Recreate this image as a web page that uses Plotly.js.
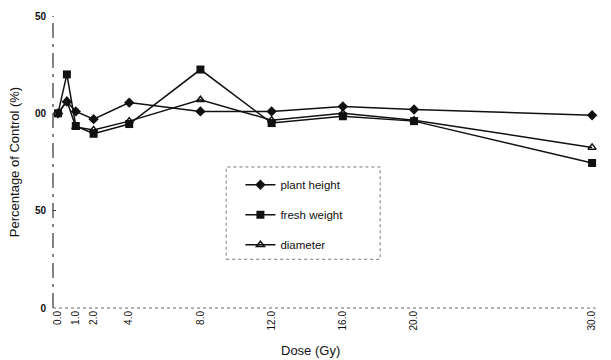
<!DOCTYPE html>
<html>
<head>
<meta charset="utf-8">
<script src="https://cdn.plot.ly/plotly-3.0.1.min.js"></script>
<style>html,body{margin:0;padding:0;background:#fff;}#chart{width:611px;height:360px;}</style>
</head>
<body>
<div id="chart"></div>
<script>
const dose = [0, 0.5, 1, 2, 4, 8, 12, 16, 20, 30];
const plantHeight = [100, 106, 101, 97, 105.5, 101, 101, 103.5, 102, 99];
const freshWeight = [100, 120, 93.5, 89.5, 94.5, 122.5, 95, 98.5, 96, 74.5];
const diameter = [100, 106.5, 93, 91.5, 96, 107, 96.5, 100, 96.5, 82.5];
const xTickVals = [0, 1, 2, 4, 8, 12, 16, 20, 30];
const xTickText = ['0.0', '1.0', '2.0', '4.0', '8.0', '12.0', '16.0', '20.0', '30.0'];
const yTickVals = [0, 50, 100, 150];
const yTickText = ['0', '50', '00', '50'];

const lineStyle = {color: '#111', width: 1.5};
const traces = [
  {x: dose, y: plantHeight, name: 'plant height', legendgroup: 'a', mode: 'lines+markers',
   line: lineStyle, marker: {symbol: 'diamond', size: 8, color: '#111'}},
  {x: dose, y: freshWeight, name: 'fresh weight', legendgroup: 'b', mode: 'lines+markers',
   line: lineStyle, marker: {symbol: 'square', size: 8, color: '#111'}},
  {x: dose, y: diameter, name: 'diameter', legendgroup: 'c', mode: 'lines+markers',
   line: lineStyle, marker: {symbol: 'triangle-up-open', size: 7, color: '#111', line: {width: 1.5, color: '#111'}}}
];

const layout = {
  width: 611, height: 360,
  margin: {l: 53, r: 10, t: 16, b: 52},
  paper_bgcolor: '#fff', plot_bgcolor: '#fff',
  font: {family: 'Liberation Sans, Arial, sans-serif', color: '#111'},
  showlegend: true,
  legend: {x: 0.342, y: 0.472, xanchor: 'left', yanchor: 'top', tracegroupgap: 11,
           bgcolor: 'rgba(255,255,255,0)', borderwidth: 0, font: {size: 11.5, color: '#111'},
           traceorder: 'grouped'},
  xaxis: {range: [-0.28, 30.5], tickvals: xTickVals, ticktext: xTickText, tickangle: -90,
          showgrid: false, zeroline: false, showline: false, ticks: '',
          tickfont: {size: 10, color: '#111'}},
  yaxis: {range: [0, 150], tickvals: yTickVals, ticktext: yTickText,
          showgrid: false, zeroline: false, showline: false, ticks: 'inside', ticklen: 3,
          ticklabelstandoff: 6,
          tickcolor: '#444', tickfont: {size: 10, color: '#111', weight: 'bold'},
          title: {text: 'Percentage of Control (%)', font: {size: 13, color: '#111'}, standoff: 12}},
  shapes: [
    {type: 'line', xref: 'paper', yref: 'paper', x0: 0, x1: 0, y0: 0, y1: 1,
     line: {color: '#333', width: 1.2, dash: 'longdashdot'}},
    {type: 'line', xref: 'paper', yref: 'paper', x0: 0, x1: 0.99, y0: 0, y1: 0,
     line: {color: '#666', width: 1, dash: 'dot'}},
    {type: 'rect', xref: 'paper', yref: 'paper', x0: 0.316, x1: 0.597, y0: 0.167, y1: 0.483,
     line: {color: '#777', width: 1, dash: 'dot'}}
  ],
  annotations: [
    {text: 'Dose (Gy)', xref: 'paper', yref: 'paper', x: 0.47, y: -0.145, xanchor: 'center', yanchor: 'middle',
     showarrow: false, font: {size: 13, color: '#111'}}
  ]
};

Plotly.newPlot('chart', traces, layout, {displayModeBar: false, staticPlot: true});
</script>
</body>
</html>
